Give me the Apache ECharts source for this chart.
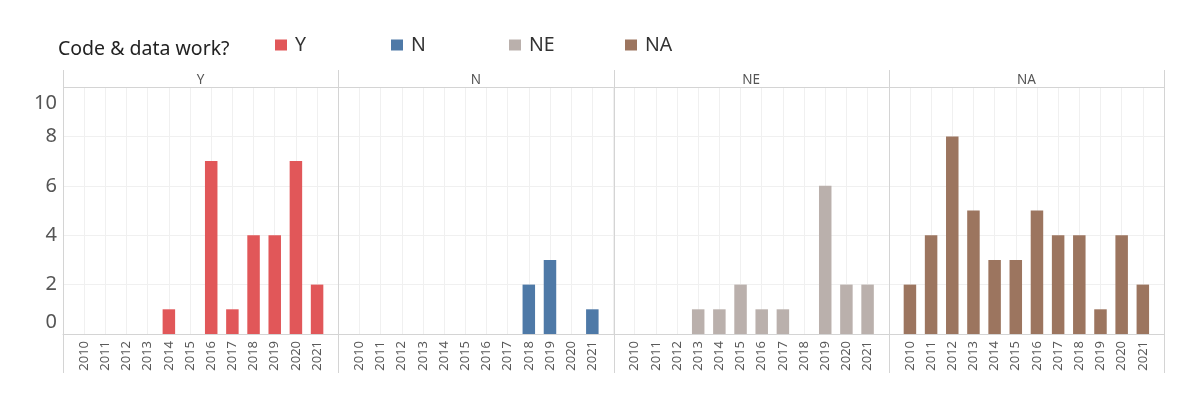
<!DOCTYPE html>
<html>
<head>
<meta charset="utf-8">
<script src="https://cdn.jsdelivr.net/npm/echarts@6/dist/echarts.min.js"></script>
<style>
html,body{margin:0;padding:0;background:#fff;}
#chart{width:1200px;height:414px;}
</style>
</head>
<body>
<div id="chart"></div>
<script>
// ---- data ----
var years = [2010, 2011, 2012, 2013, 2014, 2015, 2016, 2017, 2018, 2019, 2020, 2021];
var panels = ['Y', 'N', 'NE', 'NA'];
var valuesY  = [0, 0, 0, 0, 1, 0, 7, 1, 4, 4, 7, 2];
var valuesN  = [0, 0, 0, 0, 0, 0, 0, 0, 2, 3, 0, 1];
var valuesNE = [0, 0, 0, 1, 1, 2, 1, 1, 0, 6, 2, 2];
var valuesNA = [2, 4, 8, 5, 3, 3, 5, 4, 4, 1, 4, 2];
var yTicks = [0, 2, 4, 6, 8, 10];
var legendTitle = 'Code & data work?';

var seriesValues = [valuesY, valuesN, valuesNE, valuesNA];
var colors = ['#E15759', '#4E79A7', '#BAB0AC', '#9C755F'];

// ---- layout ----
var FONT = '"Noto Sans", "DejaVu Sans", sans-serif';
var panelLeft = 63, panelW = 275.25, plotTop = 87, plotH = 247;
var headTop = 70, borderBottom = 373;
var lineColor = '#d4d4d4', gridColor = '#f0f0f0';

var grids = [], xAxes = [], yAxes = [], series = [], titles = [], legends = [], graphics = [];
panels.forEach(function (p, i) {
  var left = panelLeft + i * panelW;
  grids.push({ left: left, width: panelW, top: plotTop, height: plotH });
  xAxes.push({
    type: 'value', gridIndex: i, min: years[0] - 1, max: years[years.length - 1] + 1, interval: 1,
    axisLine: { show: true, lineStyle: { color: lineColor, width: 1 } },
    axisTick: { show: false },
    splitLine: { show: true, lineStyle: { color: gridColor, width: 1 } },
    axisLabel: {
      rotate: 90, margin: 7, color: '#5a5a5a', fontSize: 13, fontFamily: FONT,
      showMinLabel: true, showMaxLabel: true,
      formatter: function (v) { return years.indexOf(v) >= 0 ? String(v) : ''; }
    }
  });
  yAxes.push({
    type: 'value', gridIndex: i, min: yTicks[0], max: yTicks[yTicks.length - 1], interval: 2,
    axisLine: { show: false }, axisTick: { show: false },
    splitLine: { show: true, lineStyle: { color: gridColor, width: 1 } },
    axisLabel: {
      show: i === 0, margin: 6, color: '#555', fontSize: 20, fontFamily: FONT,
      formatter: function (v) {
        if (v === yTicks[0]) return '{lo|' + v + '}';
        if (v === yTicks[yTicks.length - 1]) return '{hi|' + v + '}';
        return '{n|' + v + '}';
      },
      rich: {
        n: { fontSize: 20, color: '#555', fontFamily: FONT },
        lo: { fontSize: 20, color: '#555', fontFamily: FONT, padding: [0, 0, 24, 0] },
        hi: { fontSize: 20, color: '#555', fontFamily: FONT, padding: [32, 0, 0, 0] }
      }
    }
  });
  series.push({
    name: p, type: 'bar', xAxisIndex: i, yAxisIndex: i, barWidth: 12.5,
    itemStyle: { color: colors[i] },
    data: years.map(function (y, j) { return [y, seriesValues[i][j]]; })
  });
  titles.push({
    text: p, left: left + panelW / 2, top: 73.5, textAlign: 'center', padding: 0,
    textStyle: { fontSize: 13.5, fontWeight: 'normal', color: '#555', fontFamily: FONT }
  });
  legends.push({
    data: [p], left: [275, 391, 509, 625][i], top: 35, itemWidth: 12, itemHeight: 11, itemGap: 6,
    icon: 'rect', selectedMode: false, padding: 0,
    textStyle: { fontSize: 19.5, color: '#333', fontFamily: FONT, padding: [0, 0, 0, 3] }
  });
});
// panel borders
for (var k = 0; k <= panels.length; k++) {
  var x = Math.round(panelLeft + k * panelW) + 0.5;
  graphics.push({ type: 'line', shape: { x1: x, y1: headTop, x2: x, y2: borderBottom },
    style: { stroke: lineColor, lineWidth: 1 }, z: 10 });
}
// header bottom line
graphics.push({ type: 'line', shape: { x1: panelLeft, y1: plotTop + 0.5, x2: panelLeft + panels.length * panelW, y2: plotTop + 0.5 },
  style: { stroke: lineColor, lineWidth: 1 }, z: 10 });
// legend title
graphics.push({ type: 'text', left: 58, top: 39,
  style: { text: legendTitle, fontSize: 19.5, fill: '#222', fontFamily: FONT } });

var chart = echarts.init(document.getElementById('chart'));
chart.setOption({
  animation: false,
  backgroundColor: '#fff',
  title: titles,
  legend: legends,
  grid: grids,
  xAxis: xAxes,
  yAxis: yAxes,
  series: series,
  graphic: graphics
});
</script>
</body>
</html>
